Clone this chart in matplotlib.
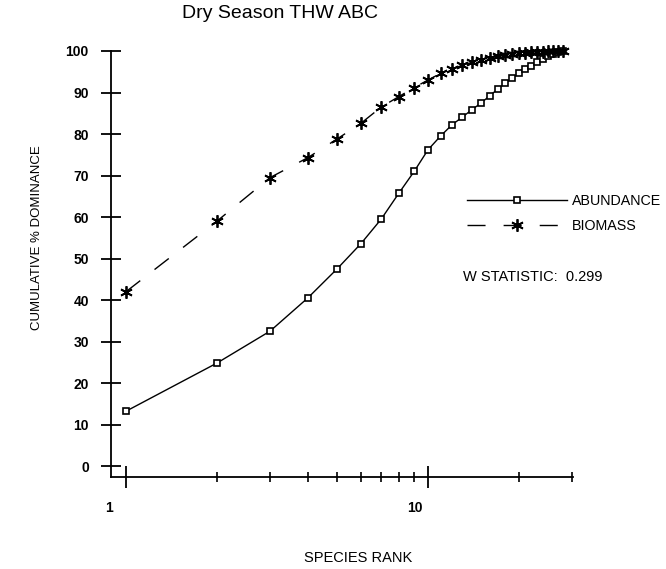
import matplotlib
matplotlib.use("Agg")
import matplotlib.pyplot as plt
import matplotlib.transforms as mtransforms

plt.rcParams['font.family'] = ['Liberation Sans', 'DejaVu Sans']

# cumulative % dominance by species rank (28 species)
ranks = list(range(1, 29))
abundance = [13.2, 24.8, 32.5, 40.5, 47.5, 53.6, 59.5, 65.7, 71.0, 76.2,
             79.5, 82.2, 84.1, 85.9, 87.5, 89.2, 90.8, 92.2, 93.5, 94.6,
             95.6, 96.5, 97.3, 98.1, 98.8, 99.3, 99.7, 100.0]
biomass = [42.0, 59.0, 69.5, 74.3, 78.8, 82.6, 86.5, 89.0, 91.2, 93.0,
           94.6, 95.6, 96.6, 97.3, 97.9, 98.3, 98.7, 99.0, 99.2, 99.4,
           99.55, 99.7, 99.8, 99.85, 99.9, 99.95, 100.0, 100.0]
w_stat = 0.299

yticks = list(range(0, 101, 10))
xmajor = [1, 10]
xminor = [2, 3, 4, 5, 6, 7, 8, 9, 20, 30]

W, H = 666, 569
fig = plt.figure(figsize=(W / 100, H / 100), dpi=100)
ax = fig.add_axes([111 / W, 1 - 477 / H, (573 - 111) / W, (477 - 51) / H])

ax.plot(ranks, abundance, color='black', lw=1.0, marker='s', markersize=5,
        markerfacecolor='white', markeredgecolor='black', markeredgewidth=1.2,
        clip_on=False, label='ABUNDANCE')
ax.plot(ranks, biomass, color='black', lw=1.0, dashes=(13, 13),
        marker=(6, 2, 0), markersize=9, markeredgewidth=1.3,
        clip_on=False, label='BIOMASS')

ax.set_xscale('log')
ax.set_xlim(0.892, 30.2)
ax.set_ylim(-2.65, 100)

for s in ['top', 'right']:
    ax.spines[s].set_visible(False)
for s in ['left', 'bottom']:
    ax.spines[s].set_linewidth(1.3)

ax.set_yticks(yticks)
ax.set_yticklabels([str(v) for v in yticks])
ax.set_xticks(xmajor)
ax.set_xticklabels(['1', '10'])
ax.set_xticks(xminor, minor=True)
ax.set_xticklabels([], minor=True)

ax.tick_params(axis='y', direction='inout', length=14, width=1.3,
               labelsize=10, pad=9)
ax.tick_params(axis='x', which='major', direction='inout', length=16,
               width=1.3, labelsize=10, pad=9.5)
ax.tick_params(axis='x', which='minor', direction='inout', length=7, width=1.2)

# shift the rank labels a little to the left of their ticks
for lab, dx in zip(ax.get_xticklabels(), [-17, -13]):
    lab.set_transform(lab.get_transform() +
                      mtransforms.ScaledTranslation(dx / 100, 0, fig.dpi_scale_trans))
    lab.set_fontweight('bold')
for lab in ax.get_yticklabels():
    lab.set_fontweight('bold')

fig.text(280 / W, 1 - 14 / H, 'Dry Season THW ABC', fontsize=14,
         ha='center', va='center')
fig.text(37 / W, 1 - 238 / H, 'CUMULATIVE % DOMINANCE', fontsize=9.5,
         rotation=90, ha='center', va='center')
fig.text(358 / W, 1 - 558 / H, 'SPECIES RANK', fontsize=10.5,
         ha='center', va='center')

ax.legend(loc='upper left', bbox_to_anchor=(467 / W, 1 - 194 / H),
          bbox_transform=fig.transFigure, frameon=False, fontsize=10.3,
          handlelength=7, handletextpad=0.35, borderpad=0, borderaxespad=0,
          labelspacing=0.75)

fig.text(463 / W, 1 - 277 / H, 'W STATISTIC:  %.3f' % w_stat, fontsize=10.5,
         ha='left', va='center')

fig.savefig('out.png', dpi=100)
